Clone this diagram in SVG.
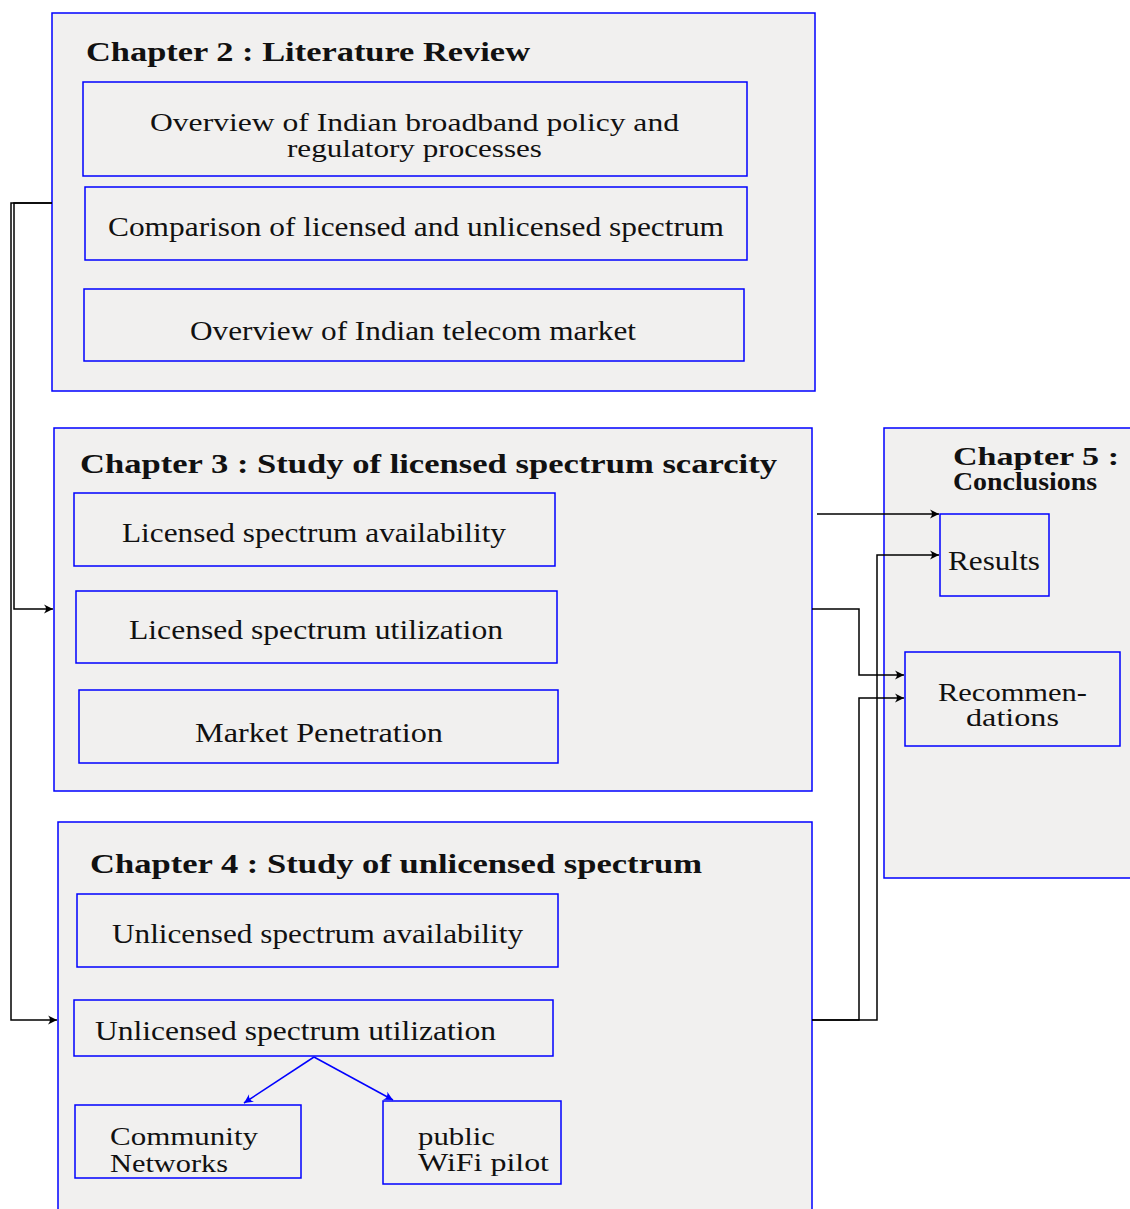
<svg xmlns="http://www.w3.org/2000/svg" width="1130" height="1209" viewBox="0 0 1130 1209">
<style>
.ch{fill:#f1f0ef;stroke:#0000ff;stroke-width:1.5}
.bx{fill:#f1f0ef;stroke:#0000ff;stroke-width:1.5}
.t{font-family:"Liberation Serif",serif;font-size:27px;fill:#111}
.t2{font-family:"Liberation Serif",serif;font-size:25px;fill:#111}
.h{font-family:"Liberation Serif",serif;font-size:27px;font-weight:bold;fill:#111}
.h2{font-family:"Liberation Serif",serif;font-size:25px;font-weight:bold;fill:#111}
.c{fill:none;stroke:#000;stroke-width:1.5}
.cb{fill:none;stroke:#0000ff;stroke-width:1.5}
</style>
<defs>
<marker id="ak" markerUnits="userSpaceOnUse" markerWidth="14" markerHeight="12" viewBox="-10 -6 12 12" refX="0" refY="0" orient="auto">
<path d="M0,0 L-9,-4.5 Q-5,0 -9,4.5 Z" fill="#000"/>
</marker>
<marker id="ab" markerUnits="userSpaceOnUse" markerWidth="14" markerHeight="12" viewBox="-10 -6 12 12" refX="0" refY="0" orient="auto">
<path d="M0,0 L-9,-4.5 Q-5,0 -9,4.5 Z" fill="#0000ff"/>
</marker>
</defs>
<rect width="1130" height="1209" fill="#fff"/>

<g id="ch2">
<rect class="ch" x="52" y="13" width="763" height="378"/>
<text class="h" x="86" y="61" textLength="444" lengthAdjust="spacingAndGlyphs">Chapter 2 : Literature Review</text>
</g>
<g id="ch2-policy">
<rect class="bx" x="83" y="82" width="664" height="94"/>
<text class="t2" x="150" y="131" textLength="529" lengthAdjust="spacingAndGlyphs">Overview of Indian broadband policy and</text>
<text class="t2" x="287" y="157" textLength="255" lengthAdjust="spacingAndGlyphs">regulatory processes</text>
</g>
<g id="ch2-compare">
<rect class="bx" x="85" y="187" width="662" height="73"/>
<text class="t" x="108" y="236" textLength="616" lengthAdjust="spacingAndGlyphs">Comparison of licensed and unlicensed spectrum</text>
</g>
<g id="ch2-market">
<rect class="bx" x="84" y="289" width="660" height="72"/>
<text class="t" x="190" y="340" textLength="446" lengthAdjust="spacingAndGlyphs">Overview of Indian telecom market</text>
</g>

<g id="ch3">
<rect class="ch" x="54" y="428" width="758" height="363"/>
<text class="h" x="80" y="473" textLength="697" lengthAdjust="spacingAndGlyphs">Chapter 3 : Study of licensed spectrum scarcity</text>
</g>
<g id="ch3-avail">
<rect class="bx" x="74" y="493" width="481" height="73"/>
<text class="t" x="122" y="542" textLength="384" lengthAdjust="spacingAndGlyphs">Licensed spectrum availability</text>
</g>
<g id="ch3-util">
<rect class="bx" x="76" y="591" width="481" height="72"/>
<text class="t" x="129" y="639" textLength="374" lengthAdjust="spacingAndGlyphs">Licensed spectrum utilization</text>
</g>
<g id="ch3-market">
<rect class="bx" x="79" y="690" width="479" height="73"/>
<text class="t" x="195" y="742" textLength="248" lengthAdjust="spacingAndGlyphs">Market Penetration</text>
</g>

<g id="ch4">
<rect class="ch" x="58" y="822" width="754" height="400"/>
<text class="h" x="90" y="873" textLength="612" lengthAdjust="spacingAndGlyphs">Chapter 4 : Study of unlicensed spectrum</text>
</g>
<g id="ch4-avail">
<rect class="bx" x="77" y="894" width="481" height="73"/>
<text class="t" x="112" y="943" textLength="411" lengthAdjust="spacingAndGlyphs">Unlicensed spectrum availability</text>
</g>
<g id="ch4-util">
<rect class="bx" x="74" y="1000" width="479" height="56"/>
<text class="t" x="95" y="1040" textLength="401" lengthAdjust="spacingAndGlyphs">Unlicensed spectrum utilization</text>
</g>
<g id="ch4-community">
<rect class="bx" x="75" y="1105" width="226" height="73"/>
<text class="t2" x="110" y="1145" textLength="148" lengthAdjust="spacingAndGlyphs">Community</text>
<text class="t2" x="110" y="1172" textLength="118" lengthAdjust="spacingAndGlyphs">Networks</text>
</g>
<g id="ch4-wifi">
<rect class="bx" x="383" y="1101" width="178" height="83"/>
<text class="t2" x="418" y="1145" textLength="77" lengthAdjust="spacingAndGlyphs">public</text>
<text class="t2" x="418" y="1171" textLength="131" lengthAdjust="spacingAndGlyphs">WiFi pilot</text>
</g>

<g id="ch5">
<rect class="ch" x="884" y="428" width="260" height="450"/>
<text class="h2" x="953" y="465" textLength="166" lengthAdjust="spacingAndGlyphs">Chapter 5 :</text>
<text class="h2" x="953" y="490" textLength="144" lengthAdjust="spacingAndGlyphs">Conclusions</text>
</g>
<g id="ch5-results">
<rect class="bx" x="940" y="514" width="109" height="82"/>
<text class="t" x="948" y="570" textLength="92" lengthAdjust="spacingAndGlyphs">Results</text>
</g>
<g id="ch5-recs">
<rect class="bx" x="905" y="652" width="215" height="94"/>
<text class="t2" x="938" y="701" textLength="149" lengthAdjust="spacingAndGlyphs">Recommen-</text>
<text class="t2" x="966" y="726" textLength="93" lengthAdjust="spacingAndGlyphs">dations</text>
</g>

<g id="connectors">
<path class="c" d="M52,203 H14 V609 H53" marker-end="url(#ak)"/>
<path class="c" d="M52,203 H11 V1020 H57" marker-end="url(#ak)"/>
<path class="c" d="M817,514 H939" marker-end="url(#ak)"/>
<path class="c" d="M812,609 H859 V675 H904" marker-end="url(#ak)"/>
<path class="c" d="M812,1020 H859 V698 H904" marker-end="url(#ak)"/>
<path class="c" d="M812,1020 H877 V555 H939" marker-end="url(#ak)"/>
<path class="cb" d="M314,1057 L244,1103" marker-end="url(#ab)"/>
<path class="cb" d="M314,1057 L393,1100" marker-end="url(#ab)"/>
</g>
</svg>
